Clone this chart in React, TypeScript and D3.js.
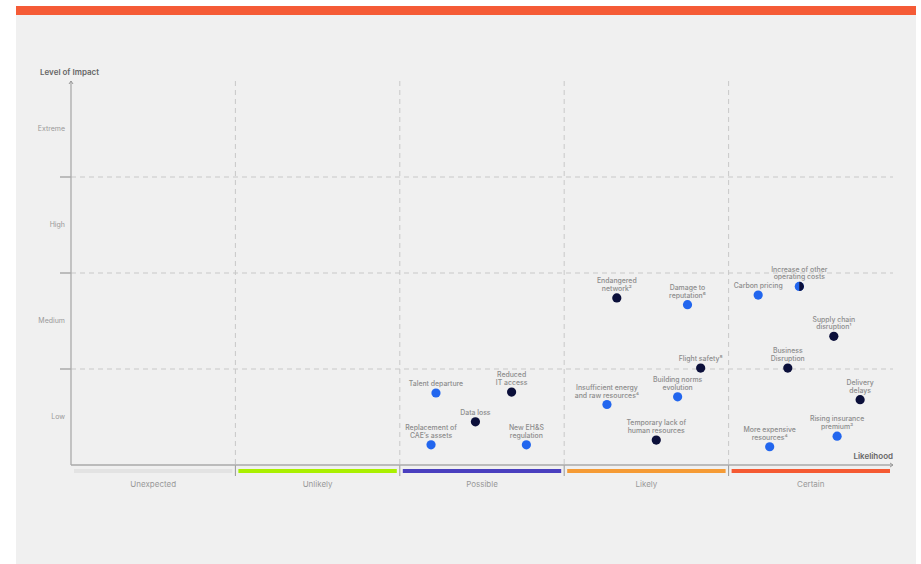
import * as d3 from 'd3';

// categories
const likelihoods = ['Unexpected', 'Unlikely', 'Possible', 'Likely', 'Certain'];
const likelihoodColors = ['#e3e3e3', '#aaf000', '#4a3fbf', '#f59b35', '#f55a33'];
const impacts = ['Low', 'Medium', 'High', 'Extreme'];

// risks: x = likelihood (0-5), y = impact (0-4)
const riskNames = [
  ['Talent departure'],
  ['Reduced', 'IT access'],
  ['Data loss'],
  ['Replacement of', 'CAE\u2019s assets'],
  ['New EH&S', 'regulation'],
  ['Endangered', 'network\u00b2'],
  ['Damage to', 'reputation\u2076'],
  ['Flight safety\u2078'],
  ['Building norms', 'evolution'],
  ['Insufficient energy', 'and raw resources\u2074'],
  ['Temporary lack of', 'human resources'],
  ['Carbon pricing'],
  ['Increase of other', 'operating costs'],
  ['Supply chain', 'disruption\u00b9'],
  ['Business', 'Disruption'],
  ['Delivery', 'delays'],
  ['Rising insurance', 'premium\u00b3'],
  ['More expensive', 'resources\u2074'],
];
const riskLikelihood = [2.22, 2.68, 2.46, 2.19, 2.77, 3.32, 3.75, 3.83, 3.69, 3.26, 3.56, 4.18, 4.43, 4.64, 4.36, 4.8, 4.66, 4.25];
const riskImpact = [0.75, 0.76, 0.45, 0.21, 0.21, 1.74, 1.67, 1.01, 0.71, 0.63, 0.26, 1.77, 1.86, 1.34, 1.01, 0.68, 0.3, 0.19];
const riskType = ['blue', 'dark', 'dark', 'blue', 'blue', 'dark', 'blue', 'dark', 'blue', 'blue', 'dark', 'blue', 'mixed', 'dark', 'dark', 'dark', 'blue', 'blue'];

const BLUE = '#2266ee';
const DARK = '#0b0f3a';
const FONT = 'Inter, "Noto Sans", sans-serif';

export default function App() {
  const width = 921;
  const height = 564;
  const left = 71;
  const right = 893;
  const top = 81;
  const bottom = 465;

  const x = d3.scaleLinear().domain([0, likelihoods.length]).range([left, right]);
  const y = d3.scaleLinear().domain([0, impacts.length]).range([bottom, top]);

  const rightHalf = d3.arc()({ innerRadius: 0, outerRadius: 4.6, startAngle: 0, endAngle: Math.PI }) as string;

  return (
    <svg width={width} height={height} style={{ position: 'absolute', left: 0, top: 0 }} fontFamily={FONT}>
      <rect x={16} y={6} width={900} height={558} fill="#f0f0f0" />
      <rect x={16} y={6} width={900} height={9} fill="#f55b36" />

      {/* horizontal grid */}
      {d3.range(1, impacts.length).map(i => (
        <g key={'h' + i}>
          <line x1={left} x2={right} y1={y(i)} y2={y(i)} stroke="#c8c8c8" strokeDasharray="5,4" />
          <line x1={60} x2={left} y1={y(i)} y2={y(i)} stroke="#999" strokeWidth={1.2} />
        </g>
      ))}
      {/* vertical grid */}
      {d3.range(1, likelihoods.length).map(i => (
        <g key={'v' + i}>
          <line x1={x(i)} x2={x(i)} y1={top} y2={bottom} stroke="#c8c8c8" strokeDasharray="5,4" />
          <line x1={x(i)} x2={x(i)} y1={bottom} y2={bottom + 11} stroke="#999" />
        </g>
      ))}

      {/* impact labels */}
      {impacts.map((d, i) => (
        <text key={d} x={65} y={y(i + 0.5)} dy="0.35em" textAnchor="end" fontSize={7} fill="#999">
          {d}
        </text>
      ))}

      {/* likelihood bands */}
      {likelihoods.map((d, i) => (
        <g key={d}>
          <rect x={x(i) + 3} y={469} width={x(i + 1) - x(i) - 6} height={4} fill={likelihoodColors[i]} />
          <text x={(x(i) + x(i + 1)) / 2} y={484} dy="0.35em" textAnchor="middle" fontSize={8} fill="#999">
            {d}
          </text>
        </g>
      ))}

      {/* axes */}
      <line x1={left} x2={left} y1={bottom} y2={top} stroke="#aaa" strokeWidth={1.3} />
      <path d={`M${left - 2},${top + 3}L${left},${top}L${left + 2},${top + 3}`} fill="none" stroke="#999" />
      <line x1={left} x2={right} y1={bottom} y2={bottom} stroke="#aaa" strokeWidth={1.3} />
      <path d={`M${right - 3},${bottom - 2}L${right},${bottom}L${right - 3},${bottom + 2}`} fill="none" stroke="#999" />
      <text x={40} y={72} dy="0.35em" fontSize={8} fontWeight={600} fill="#666">
        Level of Impact
      </text>
      <text x={right} y={456} dy="0.35em" textAnchor="end" fontSize={8} fontWeight={600} fill="#666">
        Likelihood
      </text>

      {/* risks */}
      {riskNames.map((lines, i) => {
        const cx = x(riskLikelihood[i]);
        const cy = y(riskImpact[i]);
        const t = riskType[i];
        return (
          <g key={i}>
            {lines.map((l, j) => (
              <text
                key={j}
                x={cx}
                y={cy - 7 - (lines.length - 1 - j) * 7.8}
                textAnchor="middle"
                fontSize={6.9}
                fontWeight={500}
                fill="#8c8c8c"
              >
                {l}
              </text>
            ))}
            {t === 'mixed' ? (
              <g>
                <circle cx={cx} cy={cy} r={4.6} fill={BLUE} />
                <path d={rightHalf} transform={`translate(${cx},${cy})`} fill={DARK} />
              </g>
            ) : (
              <circle cx={cx} cy={cy} r={4.6} fill={t === 'blue' ? BLUE : DARK} />
            )}
          </g>
        );
      })}
    </svg>
  );
}
